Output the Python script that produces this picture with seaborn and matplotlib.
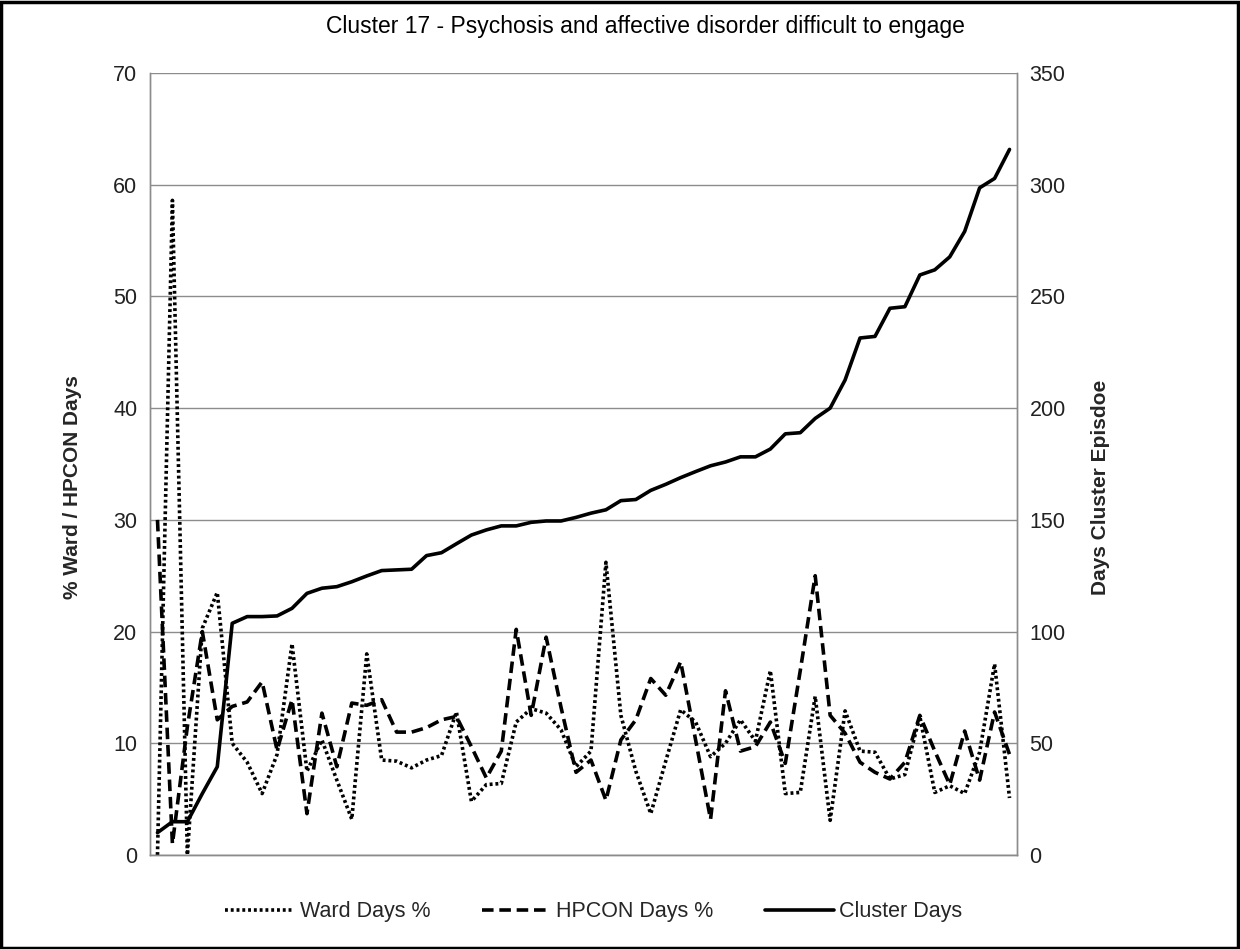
import matplotlib
matplotlib.use("Agg")
import matplotlib.pyplot as plt
import seaborn as sns
import pandas as pd
import numpy as np
from matplotlib.patches import Rectangle

ward_days_pct = [0, 58.6, 0, 20.3, 23.5, 10.0, 8.3, 5.5, 9.0, 18.9,
                 7.5, 10.3, 6.7, 3.2, 18.0, 8.5, 8.4, 7.8, 8.5, 8.9,
                 12.8, 4.8, 6.3, 6.4, 11.9, 13.1, 12.7, 11.2, 7.9, 9.3,
                 26.2, 12.5, 7.5, 3.7, 8.4, 13.0, 11.9, 8.8, 10.0, 12.1,
                 10.2, 16.5, 5.5, 5.6, 14.2, 3.1, 12.9, 9.3, 9.2, 6.8,
                 7.2, 12.4, 5.6, 6.2, 5.5, 9.2, 17.1, 5.1]
hpcon_days_pct = [30.0, 1.0, 11.5, 20.0, 12.1, 13.3, 13.7, 15.5, 9.4, 13.9,
                  3.7, 12.7, 7.9, 13.6, 13.4, 13.9, 11.0, 11.0, 11.4, 12.1,
                  12.4, 9.7, 6.9, 9.3, 20.2, 12.5, 19.5, 13.2, 7.4, 8.5,
                  4.9, 10.3, 12.1, 15.8, 14.3, 17.3, 10.3, 3.2, 14.7, 9.3,
                  9.7, 11.9, 8.2, 16.5, 25.0, 12.5, 10.9, 8.3, 7.4, 6.8,
                  8.3, 12.5, 9.3, 6.3, 11.1, 6.7, 12.8, 9.0]
cluster_days = [10.0, 14.9, 14.9, 27.5, 39.5, 103.7, 106.7, 106.7, 107.0, 110.4,
                117.1, 119.4, 120.1, 122.3, 124.9, 127.3, 127.6, 127.9, 134.0, 135.3,
                139.3, 143.2, 145.5, 147.3, 147.3, 148.9, 149.5, 149.5, 151.1, 153.0,
                154.5, 158.6, 159.1, 163.2, 165.9, 168.9, 171.6, 174.2, 175.9, 178.2,
                178.2, 181.7, 188.5, 189.0, 195.4, 200.0, 212.6, 231.4, 232.1, 244.7,
                245.4, 259.6, 261.9, 267.7, 279.1, 298.6, 302.8, 315.8]

title = "Cluster 17 - Psychosis and affective disorder difficult to engage"
left_label = "% Ward / HPCON Days"
right_label = "Days Cluster Episdoe"
series_names = ["Ward Days %", "HPCON Days %", "Cluster Days"]
left_ticks = [0, 10, 20, 30, 40, 50, 60, 70]
right_ticks = [0, 50, 100, 150, 200, 250, 300, 350]

sns.set_style("white")
plt.rcParams['font.family'] = ['Liberation Sans', 'DejaVu Sans']

x = np.arange(len(cluster_days))
df = pd.DataFrame({"idx": x, "ward": ward_days_pct, "hpcon": hpcon_days_pct, "cluster": cluster_days})

W, H = 1240, 949
fig = plt.figure(figsize=(W / 100, H / 100), dpi=100)
ax = fig.add_axes([150 / W, 1 - 855 / H, (1017 - 150) / W, (855 - 73) / H])
ax2 = ax.twinx()

sns.lineplot(data=df, x="idx", y="ward", ax=ax, color="black", lw=2.6,
             linestyle=(0, (0.8, 0.8)), label=series_names[0], legend=False)
sns.lineplot(data=df, x="idx", y="hpcon", ax=ax, color="black", lw=2.6,
             linestyle=(0, (3.2, 1.6)), label=series_names[1], legend=False)
sns.lineplot(data=df, x="idx", y="cluster", ax=ax2, color="black", lw=2.6,
             linestyle="-", label=series_names[2], legend=False)

ax.set_xlim(-0.5, len(x) - 0.5)
ax.set_ylim(0, 70)
ax2.set_ylim(0, 350)
ax.set_yticks(left_ticks)
ax2.set_yticks(right_ticks)
ax.set_xticks([])
ax.set_xlabel("")
ax.set_ylabel("")
ax2.set_ylabel("")
ax.grid(axis="y", color="#8c8c8c", lw=1.0)
ax.set_axisbelow(True)
ax2.grid(False)

for a in (ax, ax2):
    a.spines["top"].set_visible(False)
    for s in ["left", "right", "bottom"]:
        a.spines[s].set_color("#8c8c8c")
        a.spines[s].set_linewidth(1.0)
    a.tick_params(axis="y", length=0, labelsize=15.5, colors="#222222", pad=9)

fig.text(645 / W, 1 - 27 / H, title, ha="center", va="center", fontsize=16.5, color="black")
fig.text(72 / W, 1 - 487 / H, left_label, ha="center", va="center", rotation=90,
         fontsize=15, fontweight="bold")
fig.text(1100 / W, 1 - 487 / H, right_label, ha="center", va="center", rotation=90,
         fontsize=15, fontweight="bold")

h1, l1 = ax.get_legend_handles_labels()
h2, l2 = ax2.get_legend_handles_labels()
fig.legend(h1 + h2, l1 + l2, loc="center", bbox_to_anchor=(594 / W, 1 - 912 / H),
           ncol=3, frameon=False, fontsize=15.5, handlelength=3.2, handletextpad=0.25,
           columnspacing=2.4)

fig.add_artist(Rectangle((0.001, 0.001), 0.997, 0.997, transform=fig.transFigure,
                         fill=False, edgecolor="black", lw=2.5))

fig.savefig("out.png", dpi=100)
